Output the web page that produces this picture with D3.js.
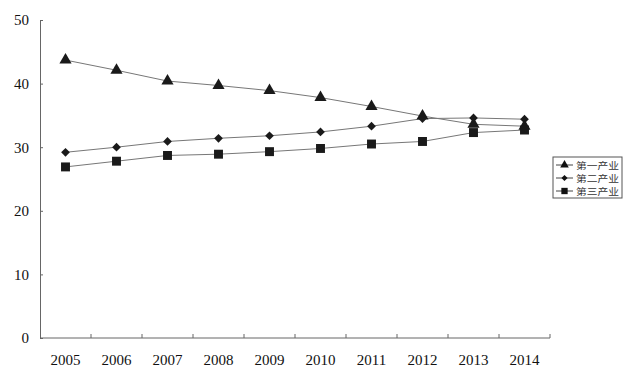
<!DOCTYPE html>
<html>
<head lang="zh">
    <meta charset="UTF-8">
    <title>产业</title>
    <script type="text/javascript" src="https://cdn.jsdelivr.net/npm/d3@7/dist/d3.min.js"></script>
    <style>
        body { margin: 0; background: #fff; }
        .tick text { font-family: "Liberation Serif", "DejaVu Serif", serif; }
    </style>
</head>
<body>
<div class="holder"></div>

<script>
    var years = ["2005", "2006", "2007", "2008", "2009", "2010", "2011", "2012", "2013", "2014"];
    var primary   = [43.7, 42.1, 40.4, 39.7, 38.9, 37.8, 36.4, 34.9, 33.6, 33.3];
    var secondary = [29.2, 30.0, 30.9, 31.4, 31.8, 32.4, 33.3, 34.5, 34.6, 34.4];
    var tertiary  = [26.9, 27.8, 28.7, 28.9, 29.3, 29.8, 30.5, 30.9, 32.3, 32.7];
    var seriesNames = ["第一产业", "第二产业", "第三产业"];
    var yTicks = [0, 10, 20, 30, 40, 50];

    // diamond = square turned 45 degrees
    var series = [
        {name: seriesNames[0], values: primary, shape: d3.symbolTriangle, size: 64, rot: 0},
        {name: seriesNames[1], values: secondary, shape: d3.symbolSquare, size: 38, rot: 45},
        {name: seriesNames[2], values: tertiary, shape: d3.symbolSquare, size: 80, rot: 0}
    ];

    var svg = d3.select(".holder")
            .append("svg")
            .attr("width", 630)
            .attr("height", 374);

    var x = d3.scaleBand().domain(years).range([40, 550]);
    var y = d3.scaleLinear().domain([0, 50]).range([338, 20]);

    // y axis
    var yAxis = svg.append("g")
            .attr("transform", "translate(40,0)")
            .call(d3.axisLeft(y).tickValues(yTicks).tickSize(-3).tickPadding(11));
    yAxis.select(".domain").attr("stroke", "#666");
    yAxis.selectAll(".tick line").attr("stroke", "#666");
    yAxis.selectAll(".tick text").attr("font-size", 15).attr("fill", "#111");

    // x axis, ticks at the band edges
    var xAxis = svg.append("g")
            .attr("transform", "translate(0,338)");
    xAxis.append("line")
            .attr("x1", 40).attr("x2", 550)
            .attr("stroke", "#666");
    xAxis.selectAll("line.edge")
            .data(years)
            .enter()
            .append("line")
            .attr("class", "edge")
            .attr("x1", function(d) {return x(d) + x.bandwidth();})
            .attr("x2", function(d) {return x(d) + x.bandwidth();})
            .attr("y1", 0).attr("y2", -4)
            .attr("stroke", "#666");
    xAxis.selectAll("text")
            .data(years)
            .enter()
            .append("text")
            .attr("x", function(d) {return x(d) + x.bandwidth() / 2;})
            .attr("y", 27)
            .attr("text-anchor", "middle")
            .attr("font-family", "Liberation Serif, serif")
            .attr("font-size", 15)
            .attr("fill", "#111")
            .text(function(d) {return d;});

    var line = d3.line()
            .x(function(d, i) {return x(years[i]) + x.bandwidth() / 2;})
            .y(function(d) {return y(d);});

    series.forEach(function(s) {
        svg.append("path")
                .attr("d", line(s.values))
                .attr("fill", "none")
                .attr("stroke", "#777")
                .attr("stroke-width", 1);
    });

    series.forEach(function(s) {
        svg.selectAll(null)
                .data(s.values)
                .enter()
                .append("path")
                .attr("d", d3.symbol().type(s.shape).size(s.size))
                .attr("transform", function(d, i) {
                    return "translate(" + (x(years[i]) + x.bandwidth() / 2) + "," + y(d) + ") rotate(" + s.rot + ")";
                })
                .attr("fill", "#1a1a1a");
    });

    // legend
    var legend = svg.append("g").attr("transform", "translate(553,157)");
    legend.append("rect")
            .attr("width", 69).attr("height", 41)
            .attr("fill", "#fff")
            .attr("stroke", "#555");
    series.forEach(function(s, i) {
        var row = legend.append("g").attr("transform", "translate(0," + (8 + i * 13) + ")");
        row.append("line")
                .attr("x1", 3).attr("x2", 20)
                .attr("stroke", "#444");
        row.append("path")
                .attr("d", d3.symbol().type(s.shape).size(s.size * 0.5))
                .attr("transform", "translate(11.5,0) rotate(" + s.rot + ")")
                .attr("fill", "#111");
        row.append("text")
                .attr("x", 23).attr("y", 3.5)
                .attr("font-family", "Noto Sans CJK SC")
                .attr("font-size", 8.8)
                .attr("textLength", 43)
                .attr("lengthAdjust", "spacingAndGlyphs")
                .attr("fill", "#333")
                .text(s.name);
    });
</script>
</body>
</html>
